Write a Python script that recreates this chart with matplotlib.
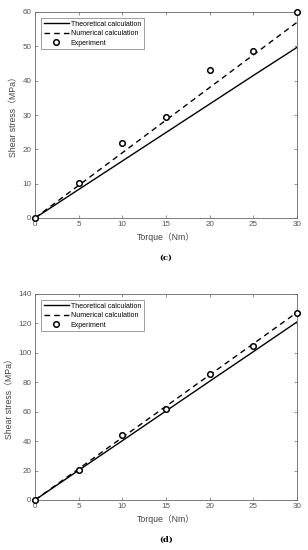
import matplotlib
matplotlib.use("Agg")
import matplotlib.pyplot as plt

plt.rcParams['font.family'] = ['Liberation Sans', 'Noto Sans CJK SC', 'DejaVu Sans']

# 扭矩
torque = [0, 5, 10, 15, 20, 25, 30]

# (c)
theory_c = [0, 8.3, 16.6, 24.9, 33.2, 41.5, 49.7]
numeric_c = [0, 9.5, 19.0, 28.5, 38.0, 47.5, 57.0]
exp_c = [0, 10.3, 21.9, 29.4, 43.0, 48.7, 59.9]

# (d)
theory_d = [0, 20.2, 40.3, 60.5, 80.7, 100.8, 121.0]
numeric_d = [0, 21.2, 42.5, 63.7, 85.0, 106.2, 127.5]
exp_d = [0, 20.1, 44.4, 61.9, 85.8, 104.4, 127.1]

labels = ['Theoretical calculation', 'Numerical calculation', 'Experiment']
xticks = [0, 5, 10, 15, 20, 25, 30]

fig = plt.figure(figsize=(3.08, 5.5), dpi=100)
ax1 = fig.add_axes([35/308, (550-218)/550, 262/308, 206/550])
ax2 = fig.add_axes([35/308, (550-500)/550, 262/308, 206/550])


def draw(ax, th, nu, ex, ymax, ystep, caption):
    ax.plot(torque, th, color='black', lw=1.0, label=labels[0])
    ax.plot(torque, nu, color='black', lw=1.0, ls=(0, (4, 3)), label=labels[1])
    ax.plot(torque, ex, 'o', mfc='white', mec='black', mew=1.1, ms=4,
            label=labels[2], clip_on=False, zorder=5)
    ax.set_xlim(0, 30)
    ax.set_ylim(0, ymax)
    ax.set_xticks(xticks)
    ax.set_yticks(range(0, ymax + 1, ystep))
    ax.tick_params(direction='in', top=True, right=True, length=2.5, width=0.5,
                   labelsize=5.8, labelcolor='#555555', colors='#666666', pad=2.5)
    for s in ax.spines.values():
        s.set_linewidth(0.6)
        s.set_color('#666666')
    ax.set_xlabel('Torque（Nm）', fontsize=6.3, color='#444444', labelpad=3)
    ax.set_ylabel('Shear stress（MPa）', fontsize=6.3, color='#444444', labelpad=3)
    leg = ax.legend(loc='upper left', fontsize=5, frameon=True, fancybox=False,
                    edgecolor='#555555', borderpad=0.35, handlelength=3.6,
                    handletextpad=0.3, labelspacing=0.35, borderaxespad=0.9)
    leg.get_frame().set_linewidth(0.5)
    ax.text(0.5, -0.175, caption, transform=ax.transAxes, ha='center', va='top',
            fontsize=6, family='DejaVu Serif', fontweight='bold')

draw(ax1, theory_c, numeric_c, exp_c, 60, 10, '(c)')
draw(ax2, theory_d, numeric_d, exp_d, 140, 20, '(d)')

fig.savefig('out.png', dpi=100)
